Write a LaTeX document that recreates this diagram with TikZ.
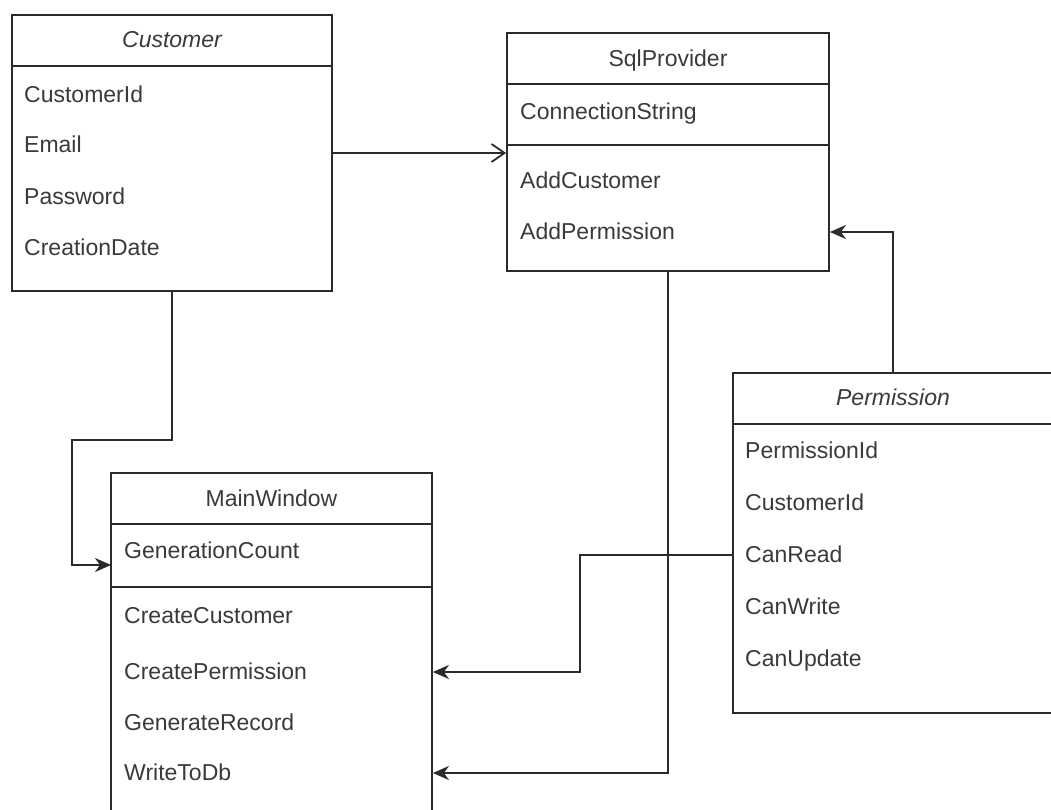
\documentclass[tikz,border=0pt]{standalone}
\usepackage{fontspec}
\setmainfont{Liberation Sans}
\usetikzlibrary{arrows.meta}
\definecolor{ln}{HTML}{2B2B2B}
\definecolor{tx}{HTML}{3A3A3A}
\tikzset{
  box/.style={draw=ln, line width=1.8pt, fill=white, inner sep=0pt},
  sep/.style={draw=ln, line width=1.8pt},
  row/.style={anchor=west, inner sep=0pt, text=tx, font=\fontsize{23}{28}\selectfont, text height=0.716em, text depth=0pt, yshift=-4pt},
  ttl/.style={anchor=center, inner sep=0pt, text=tx, font=\fontsize{23}{28}\selectfont, text height=0.716em, text depth=0pt, yshift=-4pt},
  conn/.style={draw=ln, line width=1.8pt, -{Stealth[length=16pt,width=14pt,inset=5pt]}},
  openconn/.style={draw=ln, line width=1.8pt, -{Straight Barb[length=13pt,width=18pt,line width=1.8pt]}}
}
\begin{document}
\begin{tikzpicture}[x=1pt,y=-1pt]
\useasboundingbox (0,0) rectangle (1051,810);
\fill[white] (0,0) rectangle (1051,810);
\clip (0,0) rectangle (1051,810);

% Customer
\node[box, minimum width=320pt, minimum height=276pt] (cust) at (172,153) {};
\draw[sep] (12,66) -- (332,66);
\node[ttl] (custT) at (172,40) {\itshape Customer};
\node[row] (c1) at (24,95) {CustomerId};
\node[row] (c2) at (24,145) {Email};
\node[row] (c3) at (24,197) {Password};
\node[row] (c4) at (24,248) {CreationDate};

% SqlProvider
\node[box, minimum width=322pt, minimum height=238pt] (sql) at (668,152) {};
\draw[sep] (507,84) -- (829,84);
\draw[sep] (507,145) -- (829,145);
\node[ttl] (sqlT) at (668,59) {SqlProvider};
\node[row] (s1) at (520,112) {ConnectionString};
\node[row] (s2) at (520,181) {AddCustomer};
\node[row] (addperm) at (520,232) {AddPermission};

% Permission
\node[box, minimum width=320pt, minimum height=340pt] (perm) at (893,543) {};
\draw[sep] (733,424) -- (1053,424);
\node[ttl] (permT) at (893,398) {\itshape Permission};
\node[row] (p1) at (745,451) {PermissionId};
\node[row] (p2) at (745,503) {CustomerId};
\node[row] (canread) at (745,555) {CanRead};
\node[row] (p4) at (745,607) {CanWrite};
\node[row] (p5) at (745,659) {CanUpdate};

% MainWindow
\node[box, minimum width=321pt, minimum height=357pt] (mw) at (271.5,651.5) {};
\draw[sep] (111,524) -- (432,524);
\draw[sep] (111,587) -- (432,587);
\node[ttl] (mwT) at (271.5,499) {MainWindow};
\node[row] (m0) at (124,551) {GenerationCount};
\node[row] (ccust) at (124,616) {CreateCustomer};
\node[row] (cperm) at (124,672) {CreatePermission};
\node[row] (m3) at (124,723) {GenerateRecord};
\node[row] (wtd) at (124,773) {WriteToDb};

% connectors
\draw[openconn] (cust.east) -- (sql.west |- cust.east);
\coordinate (k2) at (72,440);
\coordinate (k2b) at (111,565);
\draw[conn] (cust.south) |- (k2) |- (k2b);
\draw[conn] (sql.south) |- ([yshift=4pt]mw.east |- wtd.west);
\coordinate (k4) at (580,620);
\draw[conn] ([yshift=4pt]perm.west |- canread.west) -| (k4) |- ([yshift=4pt]mw.east |- cperm.west);
\draw[conn] (perm.north) |- ([yshift=4pt]sql.east |- addperm.west);
\end{tikzpicture}
\end{document}
